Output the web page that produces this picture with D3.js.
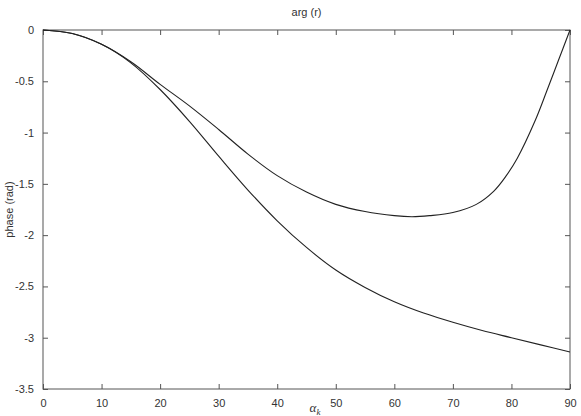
<!DOCTYPE html>
<html>
<head>
<meta charset="utf-8">
<script src="https://cdn.jsdelivr.net/npm/d3@7"></script>
<style>
  body { margin: 0; background: #fff; }
  svg text { font-family: "Liberation Sans", Arial, sans-serif; fill: #333; }
</style>
</head>
<body>
<div id="chart"></div>
<script>
// angle of incidence (deg) and phase of r (rad), two curves
const anglesUpper = [0, 5, 10, 15, 20, 25, 30, 35, 40, 45, 50, 55, 60, 63, 66, 70, 74, 77, 79, 81, 84, 86, 88, 90];
const phaseUpper  = [0, -0.035, -0.14, -0.31, -0.53, -0.74, -0.97, -1.21, -1.42, -1.58, -1.70, -1.77, -1.81, -1.82, -1.81, -1.78, -1.70, -1.57, -1.43, -1.25, -0.89, -0.60, -0.30, 0];

const anglesLower = [0, 5, 10, 15, 20, 25, 30, 35, 40, 45, 50, 55, 60, 65, 70, 75, 80, 85, 90];
const phaseLower  = [0, -0.035, -0.14, -0.32, -0.58, -0.89, -1.23, -1.56, -1.86, -2.12, -2.34, -2.51, -2.65, -2.76, -2.85, -2.93, -3.00, -3.07, -3.14];

const xTicks = [0, 10, 20, 30, 40, 50, 60, 70, 80, 90];
const yTicks = [0, -0.5, -1, -1.5, -2, -2.5, -3, -3.5];

const width = 581, height = 416;
const margin = { top: 30, right: 11, bottom: 27, left: 43 };

const svg = d3.select("#chart").append("svg")
    .attr("width", width)
    .attr("height", height);

const x = d3.scaleLinear().domain([0, 90]).range([margin.left, width - margin.right]);
const y = d3.scaleLinear().domain([-3.5, 0]).range([height - margin.bottom, margin.top]);

const tickLen = 5;

// bottom axis, ticks pointing inward
svg.append("g")
    .attr("transform", `translate(0,${y(-3.5)})`)
    .call(d3.axisBottom(x).tickValues(xTicks).tickSize(-tickLen).tickPadding(10).tickFormat(d3.format("d")))
    .call(g => g.select(".domain").remove())
    .call(g => g.selectAll("text").style("font-size", "11px"));

// top mirror ticks
svg.append("g")
    .attr("transform", `translate(0,${y(0)})`)
    .call(d3.axisTop(x).tickValues(xTicks).tickSize(-tickLen).tickFormat(""))
    .call(g => g.select(".domain").remove());

// left axis
svg.append("g")
    .attr("transform", `translate(${x(0)},0)`)
    .call(d3.axisLeft(y).tickValues(yTicks).tickSize(-tickLen).tickPadding(9).tickFormat(d => d3.format("")(d).replace("−", "-")))
    .call(g => g.select(".domain").remove())
    .call(g => g.selectAll("text").style("font-size", "11px"));

// right mirror ticks
svg.append("g")
    .attr("transform", `translate(${x(90)},0)`)
    .call(d3.axisRight(y).tickValues(yTicks).tickSize(-tickLen).tickFormat(""))
    .call(g => g.select(".domain").remove());

svg.selectAll(".tick line").attr("stroke", "#555");

// frame
svg.append("rect")
    .attr("x", x(0)).attr("y", y(0))
    .attr("width", x(90) - x(0)).attr("height", y(-3.5) - y(0))
    .attr("fill", "none")
    .attr("stroke", "#555")
    .attr("stroke-width", 1);

const line = d3.line()
    .x(d => x(d[0]))
    .y(d => y(d[1]))
    .curve(d3.curveCatmullRom.alpha(0.5));

const series = [
    d3.zip(anglesUpper, phaseUpper),
    d3.zip(anglesLower, phaseLower)
];

svg.selectAll(".curve")
    .data(series)
    .enter().append("path")
    .attr("class", "curve")
    .attr("d", line)
    .attr("fill", "none")
    .attr("stroke", "#222")
    .attr("stroke-width", 1.1);

// title and axis labels
svg.append("text")
    .attr("x", (x(0) + x(90)) / 2)
    .attr("y", 16)
    .attr("text-anchor", "middle")
    .style("font-size", "11px")
    .text("arg (r)");

svg.append("text")
    .attr("transform", `translate(13,${(y(0) + y(-3.5)) / 2}) rotate(-90)`)
    .attr("text-anchor", "middle")
    .style("font-size", "11px")
    .text("phase (rad)");

const xl = svg.append("text")
    .attr("x", 315)
    .attr("y", 412)
    .attr("text-anchor", "middle")
    .style("font-family", "'Liberation Serif', serif")
    .style("font-size", "13px");
xl.append("tspan").style("font-style", "italic").text("α");
xl.append("tspan").attr("dy", 3).style("font-size", "9px").style("font-style", "italic").text("k");
</script>
</body>
</html>
